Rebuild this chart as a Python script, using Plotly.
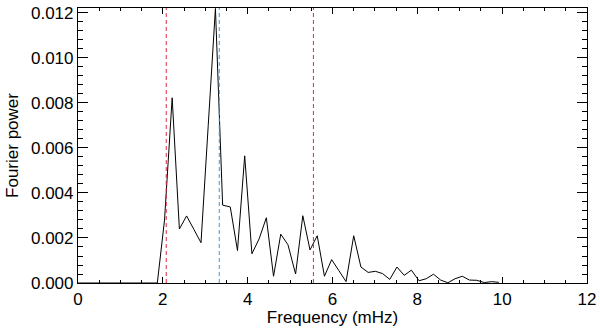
import plotly.graph_objects as go

# frequency grid (mHz) and Fourier power
freq = [0.00, 0.16, 0.33, 0.50, 0.67, 0.85, 1.02, 1.19, 1.36, 1.53,
        1.70, 1.87, 2.04, 2.22, 2.39, 2.56, 2.73, 2.90, 3.07, 3.24,
        3.41, 3.59, 3.76, 3.93, 4.10, 4.27, 4.44, 4.61, 4.78, 4.95,
        5.13, 5.30, 5.47, 5.64, 5.81, 5.98, 6.15, 6.32, 6.50, 6.67,
        6.84, 7.01, 7.18, 7.35, 7.52, 7.69, 7.86, 8.04, 8.21, 8.38,
        8.55, 8.72, 8.89, 9.06, 9.23, 9.40, 9.58, 9.75, 9.92]
power = [0.0, 0.0, 0.0, 0.0, 0.0, 0.0, 0.0, 0.0, 0.0, 0.0,
         0.0, 0.0, 0.0028, 0.00823, 0.0024, 0.00298, 0.00239, 0.00179, 0.0070, 0.0122,
         0.00346, 0.00338, 0.00144, 0.00565, 0.0013, 0.00196, 0.0029, 0.0003, 0.00217, 0.0017,
         0.0004, 0.00299, 0.00147, 0.0021, 0.0003, 0.00104, 0.00055, 0.00006, 0.0021, 0.00071,
         0.00047, 0.00052, 0.00042, 0.00016, 0.00071, 0.00034, 0.00057, 0.0001, 0.00019, 0.00039,
         0.00013, 0.00001, 0.00019, 0.0003, 0.00013, 0.00012, 0.00002, 0.00006, 0.00003]

red_lines = [2.08, 5.55]
blue_lines = [3.33]

x_ticks = [0, 2, 4, 6, 8, 10, 12]
y_ticks = [0.000, 0.002, 0.004, 0.006, 0.008, 0.010, 0.012]
y_labels = ["0.000", "0.002", "0.004", "0.006", "0.008", "0.010", "0.012"]

XMAX = 12
YMAX = 0.01222
FONT = dict(family="Liberation Sans, Arial", size=17, color="black")

fig = go.Figure()
fig.add_trace(go.Scatter(
    x=freq, y=power, mode="lines",
    line=dict(color="black", width=1),
    showlegend=False, hoverinfo="skip",
))

for f in red_lines:
    fig.add_vline(x=f, line=dict(color="#e0283c", width=1, dash="4px,3px"))
for f in blue_lines:
    fig.add_vline(x=f, line=dict(color="#3f95e0", width=1, dash="4px,3px"))

axis_common = dict(
    showgrid=False, zeroline=False,
    showline=True, linecolor="black", linewidth=1.2,
    ticks="inside", tickcolor="black", mirror="allticks",
    tickfont=FONT,
)

fig.update_xaxes(
    **axis_common,
    range=[0, XMAX], tickvals=x_ticks, ticklen=6, tickwidth=1,
    minor=dict(ticks="inside", dtick=0.5, ticklen=3, tickcolor="black"),
    title=dict(text="Frequency (mHz)", standoff=3, font=FONT),
)
fig.update_yaxes(
    **axis_common,
    range=[0, YMAX], tickvals=y_ticks, ticktext=y_labels, ticklen=10, tickwidth=1,
    minor=dict(ticks="inside", dtick=0.0004, ticklen=5, tickcolor="black"),
    title=dict(text="Fourier power", standoff=8, font=FONT),
)

fig.update_layout(
    width=600, height=331,
    paper_bgcolor="white", plot_bgcolor="white",
    margin=dict(l=78, r=11, t=4, b=48),
    showlegend=False,
)

# drop the page's default body margin so the figure sits at the window corner
fig.write_html("out.html", config={"displayModeBar": False},
               post_script="document.body.style.margin='0';")
